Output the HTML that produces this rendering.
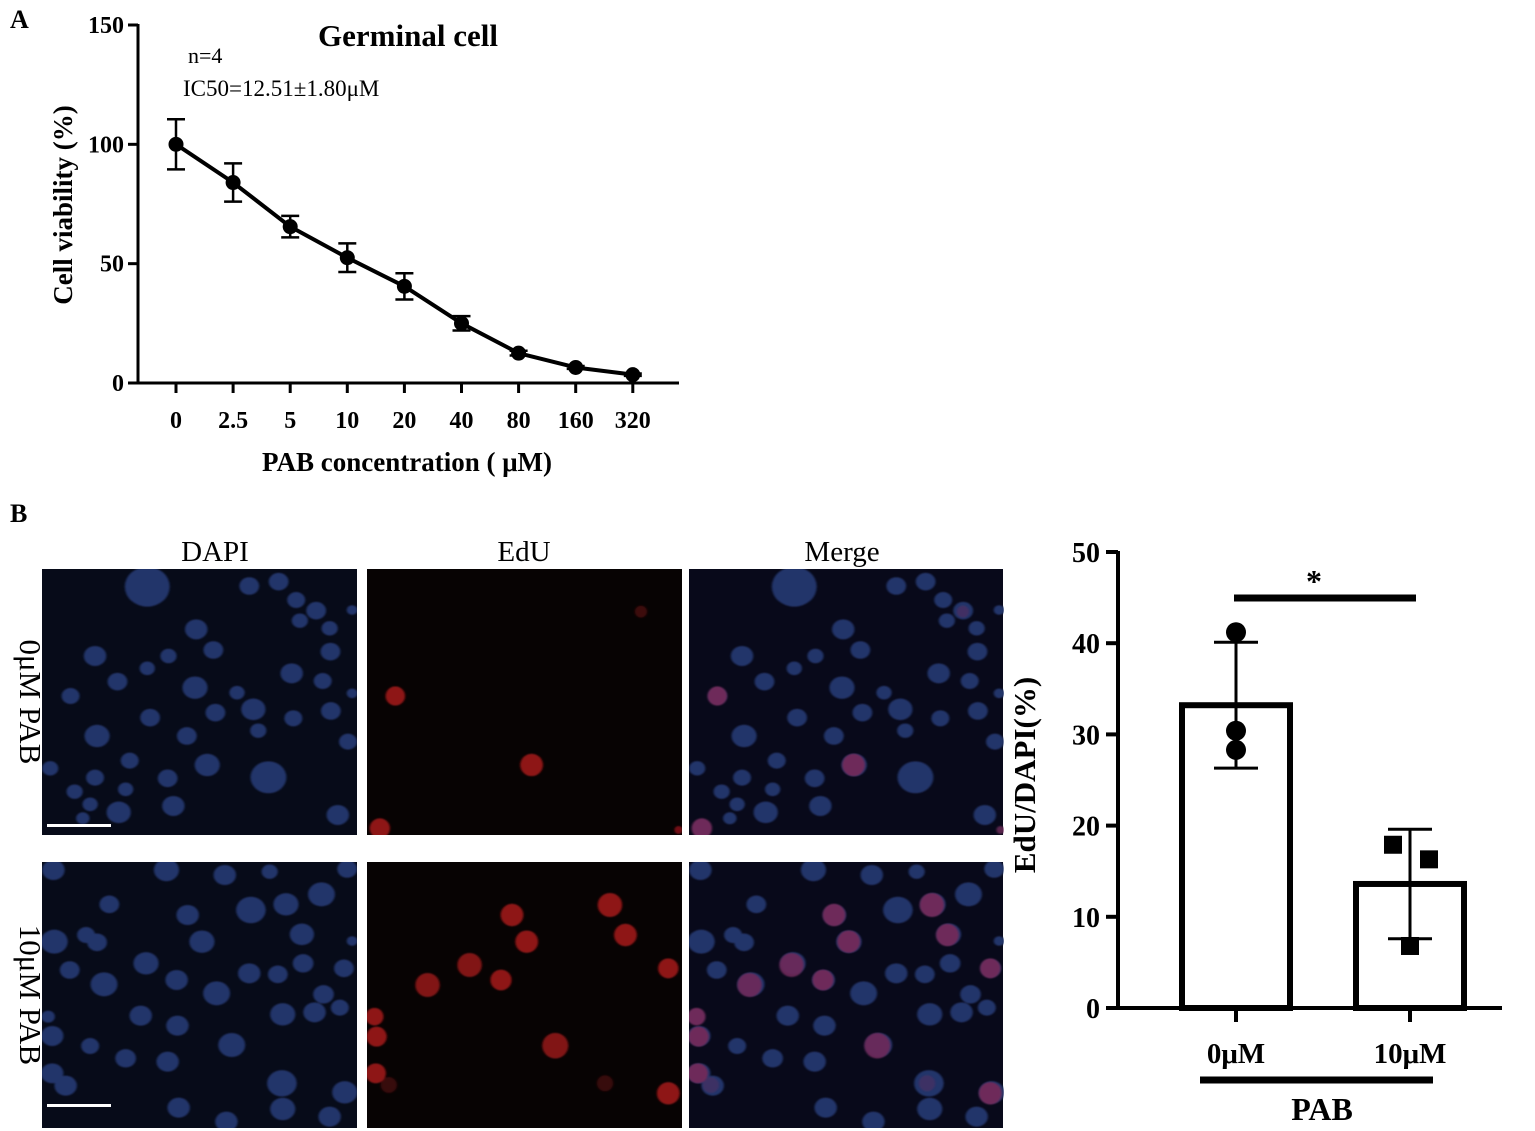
<!DOCTYPE html>
<html><head><meta charset="utf-8">
<style>
body{margin:0;background:#fff;}
svg{display:block;font-family:"Liberation Serif",serif;}
</style></head>
<body>
<svg id="fig" width="1535" height="1131" viewBox="0 0 1535 1131" xmlns="http://www.w3.org/2000/svg">
<defs>
<filter id="blur1"><feGaussianBlur stdDeviation="2.5"/></filter>
</defs>
<text x="10" y="28" font-size="26" font-weight="bold">A</text>
<text x="10" y="522" font-size="26" font-weight="bold">B</text>
<g id="chartA"></g>
<g id="micro"></g>
<g id="chartB"></g>
</svg>
<script>
const NS='http://www.w3.org/2000/svg';
// ---- Chart A data ----
const concLabels=['0','2.5','5','10','20','40','80','160','320'];
const viability=[100,84,65.5,52.5,40.5,25,12.5,6.5,3.5];
const viabilityErr=[10.5,8,4.5,6,5.5,3,1,0.6,0.5];
const yTicksA=[0,50,100,150];
// ---- Chart B data ----
const groupLabels=['0μM','10μM'];
const eduMeans=[33.2,13.6];
const eduSD=[6.9,6];
const eduPoints0=[41.2,30.4,28.3];
const eduPoints1=[17.9,16.3,6.8];
const yTicksB=[0,10,20,30,40,50];

function mk(tag,attrs,parent,text){const e=document.createElementNS(NS,tag);for(const k in attrs)e.setAttribute(k,attrs[k]);if(text!==undefined)e.textContent=text;parent.appendChild(e);return e;}

// Chart A
(function(){
const g=document.getElementById('chartA');
const yA=v=>383-v*(358/150);
const xA=i=>176+i*57.1;
let e=mk('line',{x1:138,y1:24,x2:138,y2:384,stroke:'#000','stroke-width':3},g);

e=mk('line',{x1:137,y1:383,x2:679,y2:383,stroke:'#000','stroke-width':3},g);

yTicksA.forEach(t=>{
 mk('line',{x1:128,y1:yA(t),x2:138,y2:yA(t),stroke:'#000','stroke-width':3},g);
 e=mk('text',{x:124,y:yA(t)+8,'font-size':24,'font-weight':'bold','text-anchor':'end'},g,String(t));
 
});
concLabels.forEach((l,i)=>{
 mk('line',{x1:xA(i),y1:383,x2:xA(i),y2:393,stroke:'#000','stroke-width':3},g);
 e=mk('text',{x:xA(i),y:428,'font-size':24,'font-weight':'bold','text-anchor':'middle'},g,l);
 
});
let d=viability.map((v,i)=>(i?'L':'M')+xA(i)+' '+yA(v)).join(' ');
e=mk('path',{d:d,fill:'none',stroke:'#000','stroke-width':4,'stroke-linejoin':'round'},g);

viability.forEach((v,i)=>{
 const x=xA(i),t=yA(v+viabilityErr[i]),b=yA(v-viabilityErr[i]);
 e=mk('path',{d:`M${x} ${t}V${b}M${x-9} ${t}H${x+9}M${x-9} ${b}H${x+9}`,stroke:'#000','stroke-width':2.5,fill:'none'},g);
 
 e=mk('circle',{cx:x,cy:yA(v),r:7.5,fill:'#000'},g);
 
});
e=mk('text',{x:408,y:46,'font-size':31,'font-weight':'bold','text-anchor':'middle'},g,'Germinal cell');

e=mk('text',{x:188,y:63,'font-size':22},g,'n=4');

e=mk('text',{x:183,y:96,'font-size':23},g,'IC50=12.51±1.80μM');

e=mk('text',{x:72,y:205,'font-size':27,'font-weight':'bold','text-anchor':'middle',transform:'rotate(-90 72 205)'},g,'Cell viability (%)');

e=mk('text',{x:407,y:471,'font-size':27,'font-weight':'bold','text-anchor':'middle'},g,'PAB concentration ( μM)');

})();

// Micrographs
const dapiTop=[[258,80,50],[508,78,22],[580,65,22],[623,120,20],[672,152,22],[632,182,18],[705,205,18],[378,208,25],[130,288,25],[420,270,22],[310,288,18],[258,325,17],[707,275,22],[612,340,25],[185,365,22],[375,383,28],[70,408,20],[688,363,20],[478,398,17],[518,448,27],[425,458,22],[265,473,22],[616,475,20],[708,453,22],[530,512,18],[135,528,28],[355,528,22],[750,545,20],[215,602,20],[405,615,28],[555,652,40],[20,625,18],[130,653,20],[308,655,22],[205,688,17],[80,695,18],[118,733,17],[188,757,27],[322,738,25],[725,765,25],[100,775,15],[760,400,12],[760,150,12]];
const dapiBot=[[28,45,25],[305,45,28],[448,60,25],[558,50,18],[748,42,22],[165,148,22],[685,118,30],[512,165,33],[357,180,25],[598,148,28],[30,260,30],[108,240,20],[135,262,22],[392,260,28],[637,238,27],[760,258,12],[255,325,28],[68,345,22],[152,388,30],[330,375,25],[508,355,25],[578,358,22],[640,325,23],[740,340,22],[428,415,30],[690,418,23],[15,485,15],[242,482,25],[590,478,28],[668,472,25],[730,458,20],[25,543,25],[332,512,25],[465,570,30],[118,573,20],[205,610,23],[308,620,25],[25,655,25],[58,692,25],[588,685,33],[742,712,28],[335,758,25],[590,762,28],[705,785,25],[452,800,25]];
const eduTop=[[866,408,24,1],[1200,615,28,1],[828,805,25,1],[1468,155,15,0.4],[1560,810,10,0.8]];
const eduBot=[[1152,180,28,1],[1188,260,28,1],[1392,150,30,1],[1430,240,28,1],[1048,330,30,0.9],[1125,375,26,1],[945,390,30,0.9],[1535,340,25,1],[815,485,22,1],[820,545,25,1],[1258,572,32,0.9],[818,655,25,1],[1535,715,28,1],[1380,685,20,0.35],[850,690,20,0.35]];
(function(){
const g=document.getElementById('micro');
const rows=[{y:569,dy:560,dapi:dapiTop,edu:eduTop,name:'0μM PAB'},{y:862,dy:855,dapi:dapiBot,edu:eduBot,name:'10μM PAB'}];
const cols=[42,367,689];
const lx=[215,524,842];
['DAPI','EdU','Merge'].forEach((t,i)=>{
 const e=mk('text',{x:lx[i],y:561,'font-size':29,'text-anchor':'middle'},g,t);
 
});
rows.forEach((r,ri)=>{
 const lab=mk('text',{x:20,y:r.y+133,'font-size':31,'text-anchor':'middle',transform:`rotate(90 20 ${r.y+133})`},g,r.name);
 
 [['#070b19',0],['#070303',1],['#08091a',2]].forEach(([c,ci])=>{
  const e=mk('rect',{x:cols[ci],y:r.y,width:ci==2?314:315,height:266,fill:c},g);
  
 });
 const mkClip=(ci,idn)=>{const id='c'+ri+'_'+idn;const cp=mk('clipPath',{id:id},g);mk('rect',{x:cols[ci],y:r.y,width:315,height:266},cp);return id;};
 [0,2].forEach(ci=>{
  const cg=mk('g',{'clip-path':`url(#${mkClip(ci,'d'+ci)})`},g);
  const ig=mk('g',{transform:`translate(${cols[ci]},${r.dy}) scale(0.408,0.3333)`,filter:'url(#blur1)'},cg);
  r.dapi.forEach(n=>{
   const e=mk('ellipse',{cx:n[0],cy:n[1],rx:n[2]*1.1,ry:n[2]*1.2,fill:'#24346a'},ig);
   
  });
 });
 [1,2].forEach(ci=>{
  const cg=mk('g',{'clip-path':`url(#${mkClip(ci,'e'+ci)})`},g);
  const off=cols[ci]-367;
  const ig=mk('g',{transform:`translate(${42+off},${r.dy}) scale(0.408,0.3333)`,filter:'url(#blur1)'},cg);
  r.edu.forEach(n=>{
   const e=mk('ellipse',{cx:n[0],cy:n[1],rx:n[2],ry:n[2]*1.2,fill:ci==1?'#8e1419':'#6e2a5a','fill-opacity':n[3]},ig);
   
  });
 });
 const sb=mk('rect',{x:47,y:r.y+(ri?242:255),width:64,height:3,fill:'#fff'},g);
 
});
})();

// Chart B
(function(){
const g=document.getElementById('chartB');
const yB=v=>1008-v*(456/50);
const xB=[1236,1410];
let e=mk('line',{x1:1118,y1:551,x2:1118,y2:1010,stroke:'#000','stroke-width':4},g);

e=mk('line',{x1:1116,y1:1008,x2:1502,y2:1008,stroke:'#000','stroke-width':4},g);

yTicksB.forEach(t=>{
 mk('line',{x1:1106,y1:yB(t),x2:1118,y2:yB(t),stroke:'#000','stroke-width':4},g);
 e=mk('text',{x:1100,y:yB(t)+10,'font-size':28,'font-weight':'bold','text-anchor':'end'},g,String(t));
 
});
groupLabels.forEach((l,i)=>{
 mk('line',{x1:xB[i],y1:1008,x2:xB[i],y2:1022,stroke:'#000','stroke-width':4},g);
 e=mk('text',{x:xB[i],y:1063,'font-size':29,'font-weight':'bold','text-anchor':'middle'},g,l);
 
});
eduMeans.forEach((m,i)=>{
 e=mk('rect',{x:xB[i]-54,y:yB(m),width:108,height:1008-yB(m),fill:'#fff',stroke:'#000','stroke-width':6},g);
 
 const t=yB(m+eduSD[i]),b=yB(m-eduSD[i]),x=xB[i];
 e=mk('path',{d:`M${x} ${t}V${b}M${x-22} ${t}H${x+22}M${x-22} ${b}H${x+22}`,stroke:'#000','stroke-width':3,fill:'none'},g);
 
});
const circX=[1236,1236,1236];
eduPoints0.forEach((v,i)=>{
 e=mk('circle',{cx:circX[i],cy:yB(v),r:10,fill:'#000'},g);
 
});
const sqX=[1393,1429,1410];
eduPoints1.forEach((v,i)=>{
 e=mk('rect',{x:sqX[i]-9,y:yB(v)-9,width:18,height:18,fill:'#000'},g);
 
});
e=mk('line',{x1:1234,y1:598,x2:1416,y2:598,stroke:'#000','stroke-width':7},g);

e=mk('text',{x:1314,y:592,'font-size':32,'font-weight':'bold','text-anchor':'middle'},g,'*');

e=mk('line',{x1:1200,y1:1080,x2:1433,y2:1080,stroke:'#000','stroke-width':7},g);

e=mk('text',{x:1322,y:1120,'font-size':32,'font-weight':'bold','text-anchor':'middle'},g,'PAB');

e=mk('text',{x:1035,y:775,'font-size':31,'font-weight':'bold','text-anchor':'middle',transform:'rotate(-90 1035 775)'},g,'EdU/DAPI(%)');

})();
</script>
</body></html>
